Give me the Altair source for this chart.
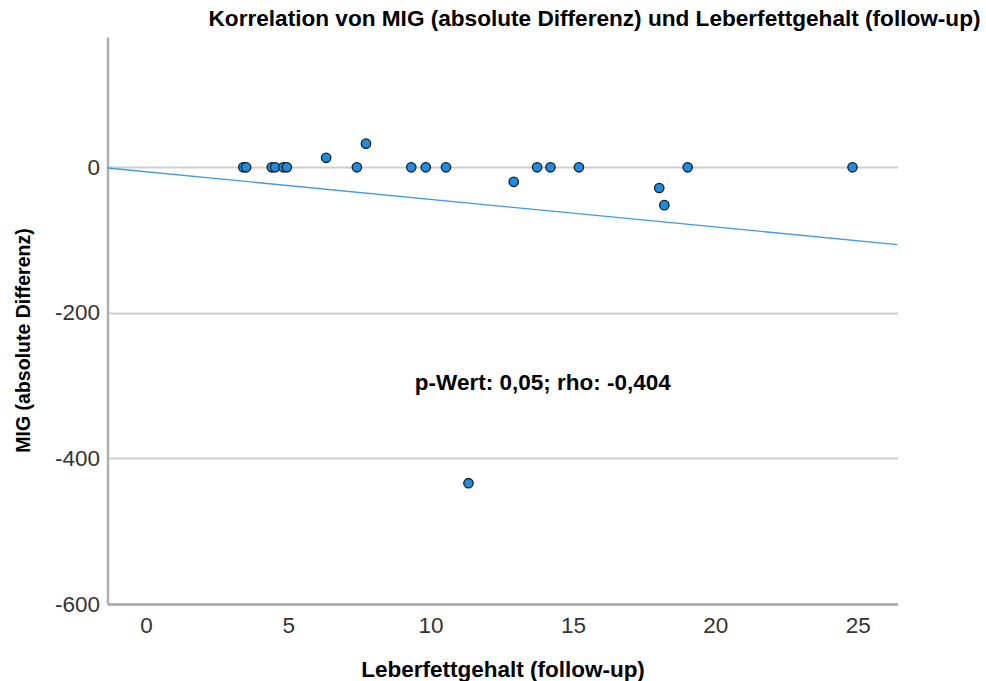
import altair as alt
import pandas as pd

# Scatter data
leberfett = [3.42, 3.52, 4.42, 4.54, 4.83, 4.95, 6.33, 7.41, 7.73, 9.32, 9.83,
             10.54, 11.33, 12.92, 13.74, 14.21, 15.21, 18.03, 18.21, 19.03, 24.82]
mig_diff = [0, 0, 0, 0, 0, 0, 13, 0, 32.5, 0, 0,
            0, -434, -20, 0, 0, 0, -28.5, -52, 0, 0]

# Fit line endpoints (at the edges of the x domain)
fit_x = [-1.35, 26.4]
fit_y = [-1, -106.3]

x_ticks = [0, 5, 10, 15, 20, 25]
y_ticks = [-600, -400, -200, 0]
x_domain = [-1.35, 26.4]
y_domain = [-600, 179]

annot_text = ["p-Wert: 0,05; rho: -0,404"]
annot_x = [13.94]
annot_y = [-306]

FONT = "Liberation Sans"

pts = pd.DataFrame({"x": leberfett, "y": mig_diff})
fit = pd.DataFrame({"x": fit_x, "y": fit_y})
ann = pd.DataFrame({"x": annot_x, "y": annot_y, "t": annot_text})

xscale = alt.Scale(domain=x_domain, nice=False, zero=False)
yscale = alt.Scale(domain=y_domain, nice=False, zero=False)

xaxis = alt.Axis(values=x_ticks, grid=False, ticks=False, domainColor="#a8a8a8",
                 domainWidth=2.5, labelFont=FONT, labelFontSize=22.5, labelColor="#333333",
                 labelPadding=10, title="Leberfettgehalt (follow-up)", titleFont=FONT,
                 titleFontSize=22.5, titleFontWeight="bold", titleColor="#000000",
                 titleBaseline="alphabetic", titleY=72)
yaxis = alt.Axis(values=y_ticks, grid=True, gridColor="#cfcfcf", gridWidth=2,
                 ticks=False, domainColor="#b0b0b0", domainWidth=2.5, labelFont=FONT,
                 labelFontSize=22.5, labelColor="#333333", labelPadding=8,
                 labelExpr="'' + datum.value",
                 title="MIG (absolute Differenz)", titleFont=FONT, titleFontSize=19.5,
                 titleFontWeight="bold", titleColor="#000000", titleX=-74, titleY=303)

line = alt.Chart(fit).mark_line(color="#3d9be9", strokeWidth=1.3, clip=True).encode(
    x=alt.X("x:Q", scale=xscale, axis=xaxis),
    y=alt.Y("y:Q", scale=yscale, axis=yaxis),
)

points = alt.Chart(pts).mark_circle(size=88, fill="#1e8ce0", stroke="#1a1a1a",
                                    strokeWidth=1.3, opacity=1).encode(
    x=alt.X("x:Q", scale=xscale),
    y=alt.Y("y:Q", scale=yscale),
)

text = alt.Chart(ann).mark_text(font=FONT, fontSize=22.5, fontWeight="bold",
                                align="center", baseline="alphabetic",
                                color="#000000").encode(
    x=alt.X("x:Q", scale=xscale),
    y=alt.Y("y:Q", scale=yscale),
    text="t:N",
)

chart = alt.layer(line, points, text).properties(
    width=790,
    height=567,
    title=alt.TitleParams(
        text="Korrelation von MIG (absolute Differenz) und Leberfettgehalt (follow-up)",
        font=FONT, fontSize=22.6, fontWeight="bold", color="#000000",
        anchor="end", dx=83, offset=6,
    ),
    autosize=alt.AutoSizeParams(type="none"),
    padding={"left": 107.5, "top": 37, "right": 88.5, "bottom": 77},
    background="white",
).configure_view(stroke=None)

chart.save("out.html", embed_options={"renderer": "svg", "actions": False})
